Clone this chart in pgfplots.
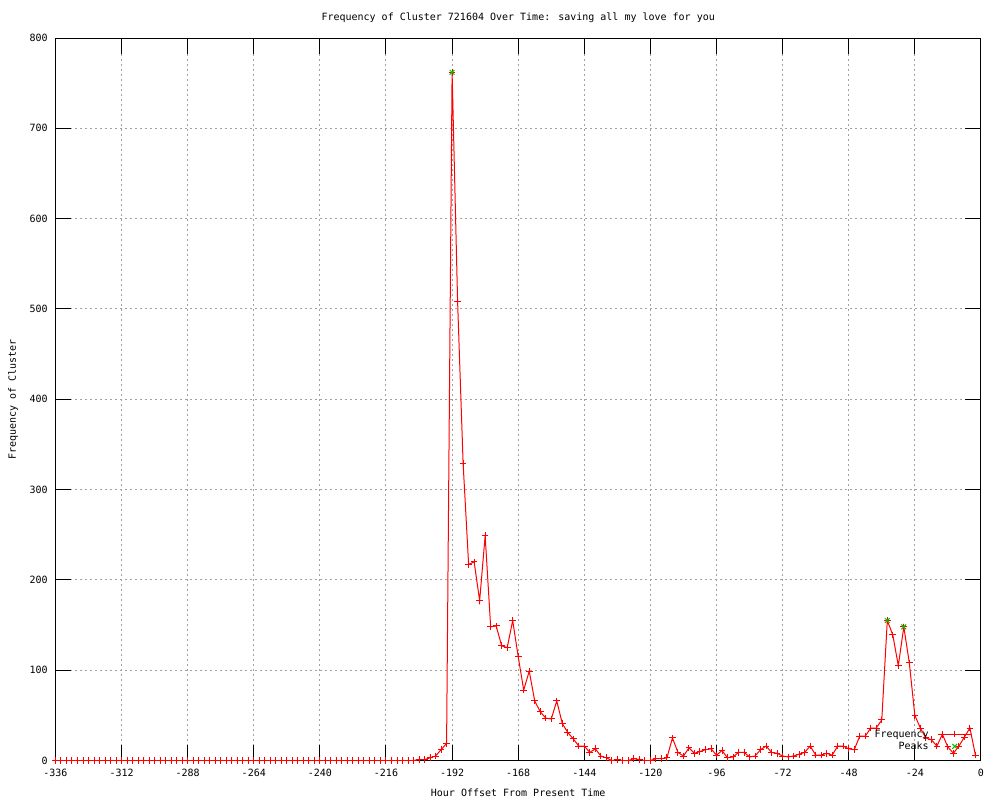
\documentclass[border=0pt]{standalone}
\usepackage{fontspec}
\setmainfont{DejaVu Sans Mono}
\usepackage{pgfplots}
\pgfplotsset{compat=1.18}
\usepackage{pgfplotstable}
\definecolor{gpred}{RGB}{255,0,0}
\definecolor{gpgreen}{RGB}{0,192,0}
\definecolor{gpgrid}{RGB}{160,160,160}
\newcommand{\fz}{\fontsize{7.5}{9}\selectfont}
\pgfplotsset{
  freqlegend/.style={legend image code/.code={\draw[mark repeat=2,mark phase=2,##1] plot coordinates {(0pt,0pt) (12.4pt,0pt) (24.75pt,0pt)};}},
  peaklegend/.style={legend image code/.code={\draw[##1] plot coordinates {(12.4pt,0pt)};}},
}

\pgfplotstableread{
h v
-336 0
-334 0
-332 0
-330 0
-328 0
-326 0
-324 0
-322 0
-320 0
-318 0
-316 0
-314 0
-312 0
-310 0
-308 0
-306 0
-304 0
-302 0
-300 0
-298 0
-296 0
-294 0
-292 0
-290 0
-288 0
-286 0
-284 0
-282 0
-280 0
-278 0
-276 0
-274 0
-272 0
-270 0
-268 0
-266 0
-264 0
-262 0
-260 0
-258 0
-256 0
-254 0
-252 0
-250 0
-248 0
-246 0
-244 0
-242 0
-240 0
-238 0
-236 0
-234 0
-232 0
-230 0
-228 0
-226 0
-224 0
-222 0
-220 0
-218 0
-216 0
-214 0
-212 0
-210 0
-208 0
-206 0
-204 1
-202 1
-200 3
-198 5
-196 12
-194 19
-192 762
-190 508
-188 329
-186 217
-184 220
-182 177
-180 249
-178 148
-176 149
-174 127
-172 125
-170 155
-168 115
-166 78
-164 99
-162 66
-160 54
-158 47
-156 46
-154 66
-152 41
-150 31
-148 24
-146 16
-144 16
-142 9
-140 13
-138 5
-136 3
-134 0
-132 1
-130 0
-128 0
-126 2
-124 1
-122 0
-120 0
-118 2
-116 2
-114 3
-112 25
-110 9
-108 5
-106 14
-104 8
-102 10
-100 12
-98 13
-96 6
-94 11
-92 3
-90 4
-88 9
-86 9
-84 4
-82 5
-80 12
-78 16
-76 9
-74 8
-72 5
-70 4
-68 5
-66 7
-64 9
-62 16
-60 6
-58 6
-56 8
-54 6
-52 16
-50 16
-48 13
-46 12
-44 27
-42 27
-40 36
-38 36
-36 45
-34 155
-32 139
-30 105
-28 148
-26 108
-24 50
-22 36
-20 25
-18 23
-16 16
-14 29
-12 15
-10 8
-8 16
-6 26
-4 36
-2 6
}\freq

\pgfplotstableread{
h v
-192 762
-34 155
-28 148
}\peaks

\begin{document}
\begin{tikzpicture}
\useasboundingbox (-41.6pt,-29.6pt) rectangle (708.4pt,570.4pt);
\begin{axis}[
  at={(0pt,0pt)}, anchor=south west,
  scale only axis, width=694.1pt, height=541.9pt,
  xmin=-336, xmax=0, ymin=0, ymax=800,
  xtick={-336,-312,-288,-264,-240,-216,-192,-168,-144,-120,-96,-72,-48,-24,0},
  xticklabels={-336,-312,-288,-264,-240,-216,-192,-168,-144,-120,-96,-72,-48,-24,0},
  ytick={0,100,200,300,400,500,600,700,800},
  yticklabels={0,100,200,300,400,500,600,700,800},
  tick align=inside, major tick length=12pt,
  every tick/.style={black, line width=0.75pt},
  axis line style={black, line width=0.75pt},
  grid=major,
  major grid style={gpgrid, line width=0.75pt, dash pattern=on 1.5pt off 2.25pt},
  xticklabel style={font=\fz, anchor=center, inner sep=0pt, yshift=-9.4pt},
  yticklabel style={font=\fz, anchor=east, inner sep=0pt, xshift=-5.6pt},
  every axis title shift=0pt,
  title={Frequency of Cluster 721604 Over Time: saving all my love for you},
  title style={font=\fz, at={(axis description cs:0.5,1.0277)}, anchor=center, inner sep=0pt},
  xlabel={Hour Offset From Present Time},
  ylabel={Frequency of Cluster},
  every axis x label/.style={font=\fz, at={(axis description cs:0.5,-0.045)}, anchor=center, inner sep=0pt},
  every axis y label/.style={font=\fz, at={(axis description cs:-0.0459,0.5)}, anchor=center, rotate=90, inner sep=0pt},
  legend plot pos=right,
  legend cell align=right,
  legend style={at={(axis description cs:0.9903,0.046)}, anchor=north east, draw=none, fill=none,
    inner sep=0pt, column sep=6.75pt, row sep=-0.5pt, font=\fz,
    nodes={inner sep=0pt, text height=7.5pt, text depth=2.25pt}},
]
\addplot[gpred, line width=0.75pt, mark=+, mark size=2.5pt, mark options={line width=0.75pt}, freqlegend]
  table[x=h, y=v] {\freq};
\addlegendentry{Frequency}
\addplot[only marks, gpgreen, mark=x, mark size=2.5pt, mark options={line width=0.75pt}, peaklegend]
  table[x=h, y=v] {\peaks};
\addlegendentry{Peaks}
\end{axis}
\end{tikzpicture}
\end{document}
